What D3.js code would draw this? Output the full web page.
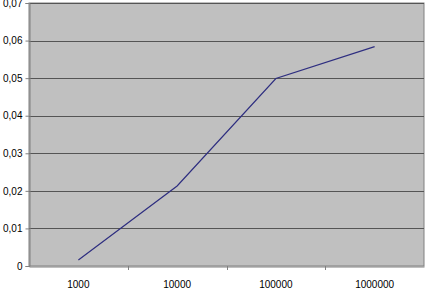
<!DOCTYPE html>
<html><head><meta charset="utf-8">
<script src="https://cdn.jsdelivr.net/npm/d3@7"></script>
<style>body{margin:0;background:#fff}svg{display:block}text{font-family:Arial,"Liberation Sans",sans-serif;font-size:10px;fill:#000}</style>
</head><body><svg id="c" width="426" height="288"></svg>
<script>
const categories = ["1000","10000","100000","1000000"];
const values = [0.0016, 0.0213, 0.0499, 0.0584];
const yTicks = [0,0.01,0.02,0.03,0.04,0.05,0.06,0.07];
const fmt = d => d===0 ? "0" : d3.format(".2f")(d).replace(".", ",");

const svg = d3.select("#c");
const L=29, R=424, T=3, B=266;
const x = d3.scaleBand().domain(categories).range([L,R]);
const y = d3.scaleLinear().domain([0,0.07]).range([B,T]);

svg.append("rect").attr("x",L).attr("y",T).attr("width",R-L).attr("height",B-T)
  .attr("fill","#c0c0c0").attr("stroke","#808080").attr("stroke-width",1);

svg.append("g").selectAll("line").data(yTicks.slice(1)).join("line")
  .attr("x1",L).attr("x2",R).attr("y1",d=>Math.round(y(d))+0.5).attr("y2",d=>Math.round(y(d))+0.5)
  .attr("stroke","#555").attr("stroke-width",1);

const ya = svg.append("g").attr("transform",`translate(${L+0.5},0)`)
  .call(d3.axisLeft(y).tickValues(yTicks).tickFormat(fmt).tickSize(4).tickPadding(3));
ya.select(".domain").attr("stroke","#808080");
ya.selectAll(".tick line").attr("stroke","#808080");
ya.selectAll("text").style("font-family","Arial,'Liberation Sans',sans-serif").style("font-size","10px");

const xa = svg.append("g").attr("transform",`translate(0,${B+0.5})`)
  .call(d3.axisBottom(x).tickSize(0).tickPadding(14));
xa.select(".domain").attr("stroke","#808080");
xa.selectAll("text").style("font-family","Arial,'Liberation Sans',sans-serif").style("font-size","10px");
svg.append("g").selectAll("line").data(categories.slice(1)).join("line")
  .attr("x1",d=>Math.round(x(d))+0.5).attr("x2",d=>Math.round(x(d))+0.5)
  .attr("y1",B).attr("y2",B+4).attr("stroke","#808080");

const line = d3.line().x((d,i)=>x(categories[i])+x.bandwidth()/2).y(d=>y(d));
svg.append("path").datum(values).attr("d",line).attr("fill","none")
  .attr("stroke","#2e2e80").attr("stroke-width",1.2);
</script></body></html>
